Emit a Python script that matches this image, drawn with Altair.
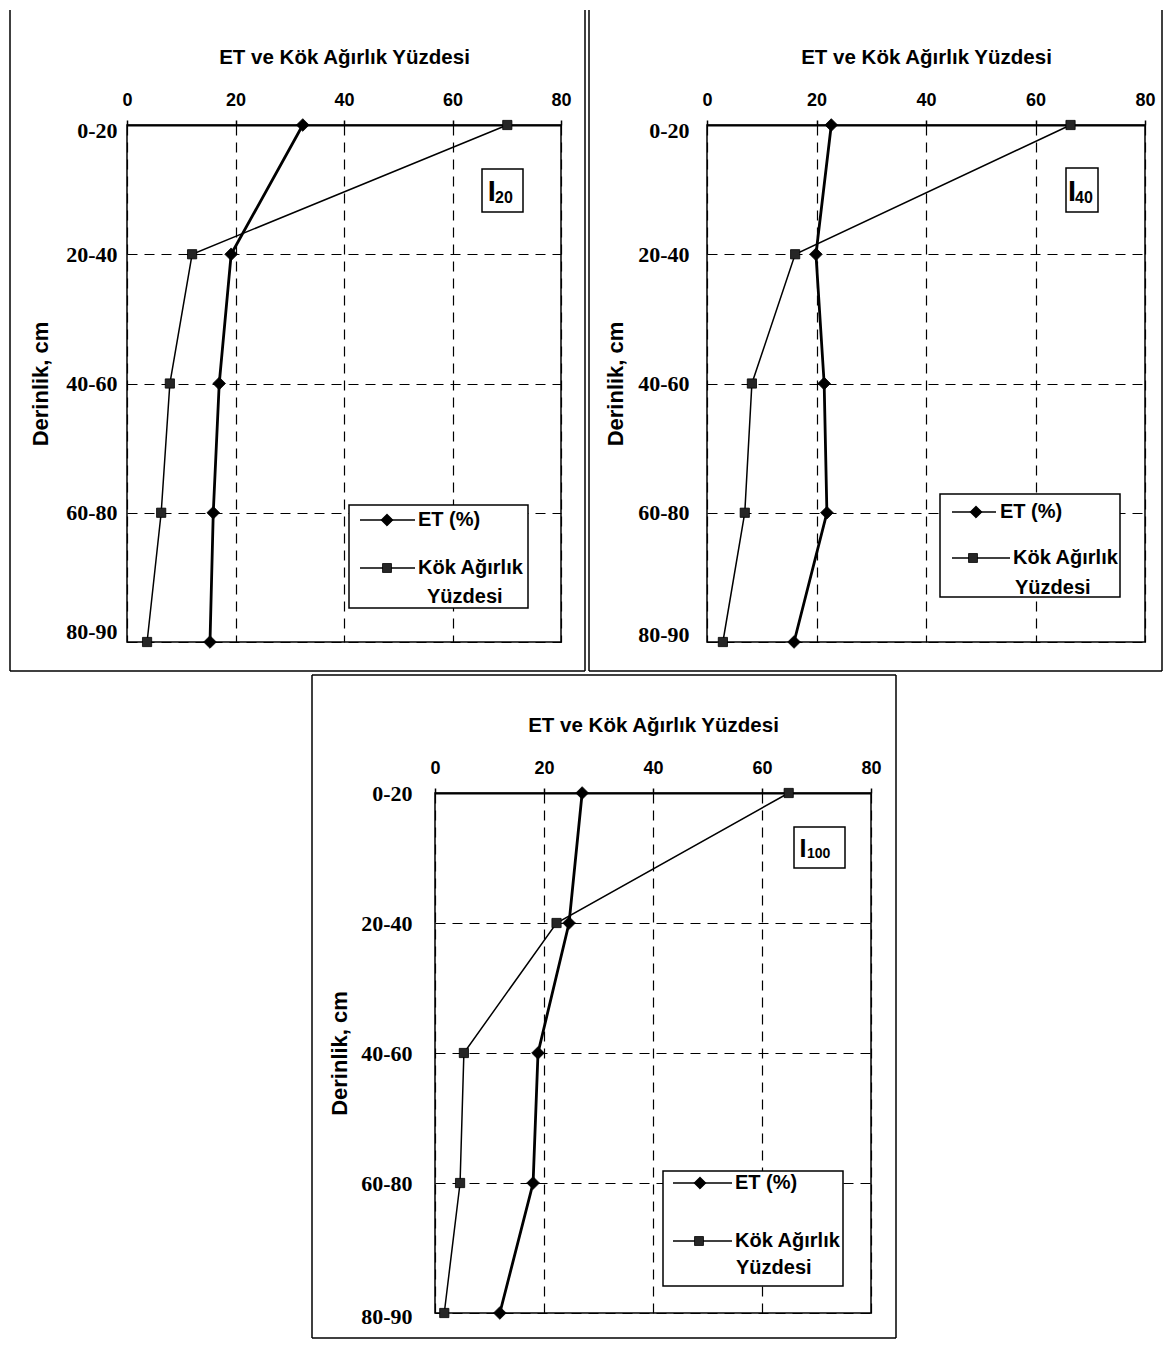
import altair as alt
import pandas as pd

# ---------------- data ----------------
depths = ["0-20", "20-40", "40-60", "60-80", "80-90"]
x_ticks = [0, 20, 40, 60, 80]
series_names = ["ET (%)", "Kök Ağırlık Yüzdesi"]

et_i20 = [32.4, 19.2, 17.0, 15.9, 15.3]
kok_i20 = [70.1, 12.0, 7.9, 6.3, 3.7]
et_i40 = [22.7, 19.9, 21.4, 21.9, 15.9]
kok_i40 = [66.4, 16.1, 8.2, 6.9, 2.9]
et_i100 = [27.0, 24.6, 18.9, 18.0, 11.9]
kok_i100 = [64.9, 22.3, 5.3, 4.6, 1.7]

tag_main = "I"
tag_subs = ["20", "40", "100"]
x_title = "ET ve Kök Ağırlık Yüzdesi"
y_title = "Derinlik, cm"
legend_et = "ET (%)"
legend_kok_1 = "Kök Ağırlık"
legend_kok_2 = "Yüzdesi"

SANS = "Liberation Sans"
SERIF = "Liberation Serif"
ONE = alt.Data(values=[{"k": 0}])


def rule(x1, y1, x2, y2, width=1.5, color="black"):
    return alt.Chart(ONE).mark_rule(color=color, strokeWidth=width).encode(
        x=alt.value(x1), y=alt.value(y1), x2=alt.value(x2), y2=alt.value(y2))


def rect(x1, y1, x2, y2, width=1.5):
    return alt.Chart(ONE).mark_rect(fill="white", stroke="black", strokeWidth=width).encode(
        x=alt.value(x1), y=alt.value(y1), x2=alt.value(x2), y2=alt.value(y2))


def text(t, x, y, size, align="left", baseline="middle", font=SANS):
    return alt.Chart(ONE).mark_text(
        text=t, align=align, baseline=baseline, font=font, fontSize=size,
        fontWeight="bold", color="black").encode(x=alt.value(x), y=alt.value(y))


def symbol(shape, x, y, size, fill):
    return alt.Chart(ONE).mark_point(
        shape=shape, filled=True, fill=fill, stroke="black", strokeWidth=0.8,
        size=size, opacity=1).encode(x=alt.value(x), y=alt.value(y))


def panel(et, kok, sub, st):
    w, h = st["w"], st["h"]
    df = pd.DataFrame({
        "depth": depths * 2,
        "value": et + kok,
        "series": [series_names[0]] * len(depths) + [series_names[1]] * len(depths),
        "idx": list(range(len(depths))) * 2,
    })
    off_top, off_bot = st["loff"]
    xenc = alt.X("value:Q", scale=alt.Scale(domain=[0, 80], nice=False),
                 axis=alt.Axis(orient="top", values=x_ticks, title=x_title,
                               titleFont=SANS, titleFontSize=20.5, titleFontWeight="bold",
                               titleColor="black", titleY=-62, titleBaseline="alphabetic",
                               labelFont=SANS, labelFontSize=18, labelFontWeight="bold",
                               labelColor="black", labelBaseline="alphabetic",
                               labelPadding=15, labelFlush=False,
                               tickSize=5, tickColor="black", tickWidth=1.5,
                               domain=True, domainColor="black", domainWidth=2,
                               grid=True, gridColor="black", gridDash=[10, 7],
                               gridWidth=1.2, gridOpacity=1))
    yenc = alt.Y("depth:N", sort=depths,
                 scale=alt.Scale(type="point", domain=depths, padding=0),
                 axis=alt.Axis(title=y_title, titleFont=SANS, titleFontSize=22,
                               titleFontWeight="bold", titleColor="black",
                               titleAngle=270, titleX=st["ytx"], titleY=h / 2,
                               titleBaseline="middle", titleAlign="center",
                               labelFont=SERIF, labelFontSize=22, labelFontWeight="bold",
                               labelColor="black", labelPadding=st["lpad"],
                               labelOffset={"condition": [
                                   {"test": "datum.value == '0-20'", "value": off_top},
                                   {"test": "datum.value == '80-90'", "value": off_bot}],
                                   "value": 0},
                               ticks=False, tickSize=0, domain=False,
                               grid=True, gridColor="black", gridDash=[10, 7],
                               gridWidth=1.2, gridOpacity=1))
    base = alt.Chart(df)
    lines = base.mark_line(color="black").encode(
        x=xenc, y=yenc, detail="series:N", order="idx:Q",
        strokeWidth=alt.StrokeWidth("series:N", scale=alt.Scale(domain=series_names, range=[2.8, 1.5]),
                                    legend=None))
    pts = base.mark_point(filled=True, opacity=1, stroke="black", strokeWidth=0.8).encode(
        x=xenc, y=yenc,
        shape=alt.Shape("series:N", scale=alt.Scale(domain=series_names, range=["diamond", "square"]),
                        legend=None),
        size=alt.Size("series:N", scale=alt.Scale(domain=series_names, range=[160, 85]), legend=None),
        fill=alt.Fill("series:N", scale=alt.Scale(domain=series_names, range=["black", "#262626"]),
                      legend=None))

    layers = [lines, pts]
    b = st["border"]
    # outer frame
    if b.get("top") is not None:
        layers.append(rule(b["left"], b["top"], b["right"], b["top"]))
    top = b["top"] if b.get("top") is not None else b["ytop"]
    layers.append(rule(b["left"], top, b["left"], b["bottom"]))
    layers.append(rule(b["right"], top, b["right"], b["bottom"]))
    layers.append(rule(b["left"], b["bottom"], b["right"], b["bottom"]))

    # legend box
    lg = st["legend"]
    layers.append(rect(*lg["box"]))
    layers.append(rule(lg["l1"][0], lg["ety"], lg["l1"][1], lg["ety"], width=1.6))
    layers.append(symbol("diamond", lg["sx1"], lg["ety"], 150, "black"))
    layers.append(text(legend_et, lg["tx1"], lg["ety"], 20))
    layers.append(rule(lg["l2"][0], lg["koky"], lg["l2"][1], lg["koky"], width=1.3))
    layers.append(symbol("square", lg["sx2"], lg["koky"], 80, "#262626"))
    layers.append(text(legend_kok_1, lg["tx2"], lg["koky"], 20))
    layers.append(text(legend_kok_2, lg["tx3"], lg["y3"], 20))

    # I-tag box
    tg = st["tag"]
    layers.append(rect(*tg["box"]))
    layers.append(text(tag_main, tg["ix"], tg["iy"], tg["isize"], align="center", baseline="alphabetic"))
    layers.append(text(sub, tg["sx"], tg["sy"], tg["ssize"], align="left", baseline="alphabetic"))

    return alt.layer(*layers).properties(
        width=w, height=h,
        view=alt.ViewBackground(stroke="black", strokeWidth=1.5, strokeOpacity=1))


st1 = dict(w=434, h=517, ytx=-87, lpad=10, loff=(5, -11),
           border=dict(left=-117, right=458, ytop=-115, bottom=546),
           legend=dict(box=(222, 380, 401, 483), ety=395, l1=(233, 288), sx1=260, tx1=291,
                       koky=443, l2=(233, 288), sx2=260, tx2=291, tx3=300, y3=472),
           tag=dict(box=(355, 44, 396, 87), ix=364.7, iy=76, isize=29, sx=368, sy=78, ssize=16))
st2 = dict(w=438, h=517, ytx=-92, lpad=18, loff=(5, -8),
           border=dict(left=-118, right=455, ytop=-115, bottom=546),
           legend=dict(box=(233, 369, 413, 472), ety=387, l1=(245, 289), sx1=269, tx1=293,
                       koky=433, l2=(245, 303), sx2=266, tx2=306, tx3=308, y3=463),
           tag=dict(box=(359, 43, 391, 87), ix=365, iy=76, isize=29, sx=368, sy=78, ssize=16))
st3 = dict(w=436, h=520, ytx=-96, lpad=23, loff=(0, 3),
           border=dict(left=-123, right=461, top=-118, bottom=545),
           legend=dict(box=(228, 378, 408, 493), ety=390, l1=(238, 297), sx1=265, tx1=300,
                       koky=448, l2=(238, 297), sx2=264, tx2=300, tx3=301, y3=475),
           tag=dict(box=(359, 34, 410, 75), ix=368, iy=64, isize=25, sx=372, sy=65, ssize=14))

p1 = panel(et_i20, kok_i20, tag_subs[0], st1)
p2 = panel(et_i40, kok_i40, tag_subs[1], st2)
p3 = panel(et_i100, kok_i100, tag_subs[2], st3)

# invisible spacer that pushes the bottom panel to the right
spacer = alt.Chart(ONE).mark_point(opacity=0, size=1).encode(
    x=alt.value(90), y=alt.value(5)
).properties(width=183, height=10, view=alt.ViewBackground(strokeOpacity=0))

chart = alt.vconcat(
    alt.hconcat(p1, p2, spacing=0),
    alt.hconcat(spacer, p3, spacing=0),
    spacing=0,
).properties(padding=0, background="white").configure_view(strokeOpacity=0).configure(font=SANS)

chart.save("out.html", embed_options={"renderer": "svg", "actions": False})
